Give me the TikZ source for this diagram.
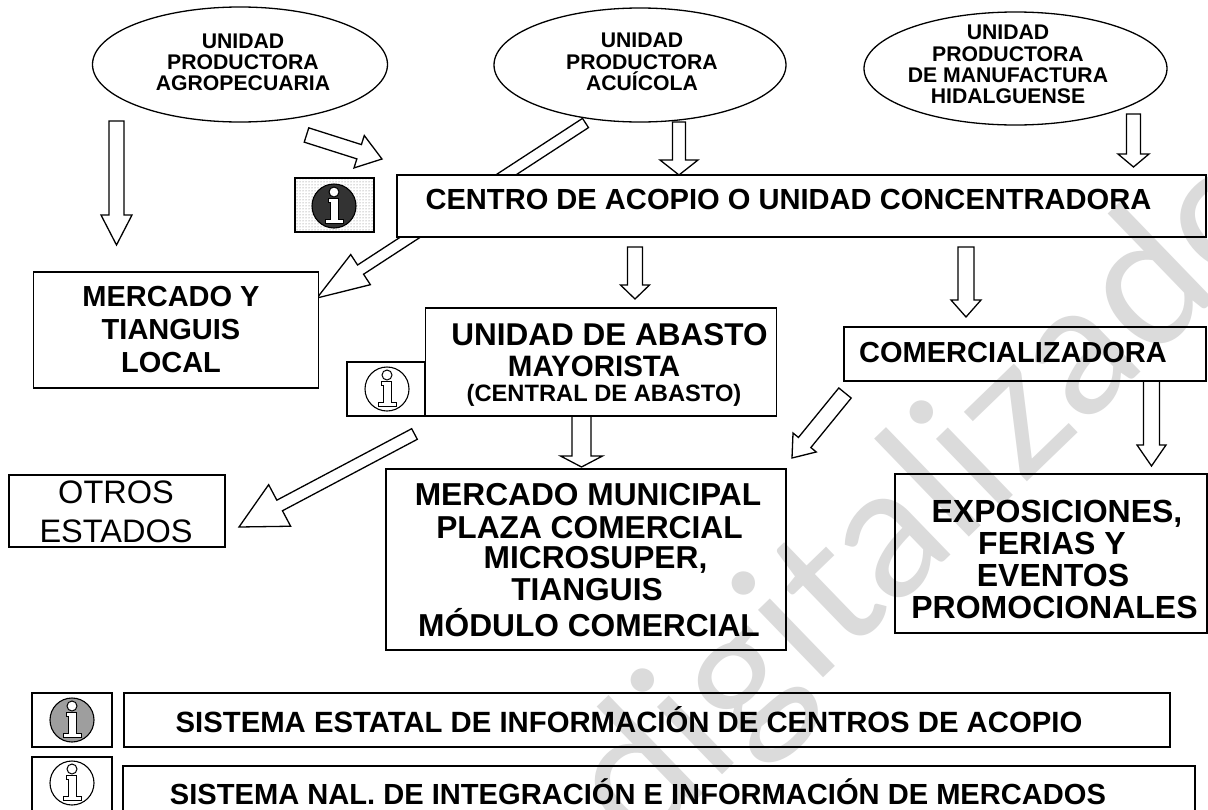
\documentclass[tikz,border=0pt]{standalone}
\usepackage{fontspec}
\setmainfont{Liberation Sans}
\newfontfamily\wmfont{Lato}
\usetikzlibrary{calc,patterns,shapes.geometric}
\newcommand{\fz}[1]{\fontsize{#1}{#1}\selectfont}
\newcommand{\blockarrow}[5]{%
  \coordinate (hb) at ($(#2)!#5pt!(#1)$);
  \draw[blockarrow] ($(#1)!#3pt!90:(#2)$) -- ($(hb)!#3pt!-90:(#1)$) -- ($(hb)!#4pt!-90:(#1)$) -- (#2)
    -- ($(hb)!#4pt!90:(#1)$) -- ($(hb)!#3pt!90:(#1)$) -- ($(#1)!#3pt!-90:(#2)$) -- cycle;}
\tikzset{
  blockarrow/.style={draw=black,fill=white,line width=1.3pt,line join=miter},
  boxn/.style={draw=black,fill=white,line width=1.5pt,rectangle,inner sep=0pt,text width=0pt},
  thinbox/.style={boxn,line width=1.1pt},
  prod/.style={draw=black,fill=white,line width=1.3pt,ellipse,inner sep=0pt},
  lab/.style={inner sep=0pt,align=center,font=\bfseries,text=black},
  iline/.style={line width=1pt},
  pics/infoicon/.style={code={
    \draw[line width=1.1pt,#1] (0,0) circle (22);
    \draw[iline,fill=white] (-6,-8) -- (4,-8) -- (4,13) -- (9,13) -- (9,17) -- (-9,17) -- (-9,13) -- (-4,13) -- (-4,-4) -- (-6,-4) -- cycle;
    \draw[iline,fill=white] (0,-14) circle (5);
  }}
}
\begin{document}
\begin{tikzpicture}[x=1pt,y=-1pt]
\useasboundingbox (0,0) rectangle (1208,809);
\clip (0,0) rectangle (1208,809);
\fill[white] (0,0) rectangle (1208,809);

% producers
\node[prod,minimum width=295pt,minimum height=115pt] (e1) at (240,64.5) {};
\node[prod,minimum width=292pt,minimum height=114pt] (e2) at (640,65) {};
\node[prod,minimum width=303pt,minimum height=113pt] (e3) at (1015.5,68.5) {};
\node[lab,font=\bfseries\fz{21.2}] (e1t) at (243,62.5) {UNIDAD\\PRODUCTORA\\AGROPECUARIA};
\node[lab,font=\bfseries\fz{21.2}] (e2t) at (642,62) {UNIDAD\\PRODUCTORA\\ACUÍCOLA};
\node[lab,font=\bfseries\fz{21.2}] (e3t) at (1008,64.5) {UNIDAD\\PRODUCTORA\\DE MANUFACTURA\\HIDALGUENSE};

% free ends of the block arrows
\coordinate (a1s) at (116.5,121);  \coordinate (a1e) at (116.5,245);
\coordinate (a2s) at (306.5,135);  \coordinate (a2e) at (382,159);
\coordinate (a3s) at (585.5,123);  \coordinate (a3e) at (317,298);
\coordinate (a4s) at (679,122);    \coordinate (a4e) at (679,175);
\coordinate (a5s) at (1133.5,114); \coordinate (a5e) at (1133.5,167);
\coordinate (a6s) at (635,247);    \coordinate (a6e) at (635,299);
\coordinate (a7s) at (966,247);    \coordinate (a7e) at (966,317);
\coordinate (a8s) at (414.5,434);  \coordinate (a8e) at (239,527);
\coordinate (a9s) at (581.5,416);  \coordinate (a9e) at (581.5,467);
\coordinate (a10s) at (845,393);   \coordinate (a10e) at (792,458);
\coordinate (a11s) at (1151.5,381);\coordinate (a11e) at (1151.5,466);

\blockarrow{a1s}{a1e}{7.5}{15.5}{30}
\blockarrow{a2s}{a2e}{7.5}{17}{24}
\blockarrow{a3s}{a3e}{5.5}{18}{52}
\blockarrow{a4s}{a4e}{6.5}{19}{15}
\blockarrow{a5s}{a5e}{7}{15.5}{13}
\blockarrow{a6s}{a6e}{7.5}{14.5}{14}
\blockarrow{a7s}{a7e}{8}{15}{17}
\blockarrow{a8s}{a8e}{6}{23.5}{46}
\blockarrow{a9s}{a9e}{9.5}{21}{11}
\blockarrow{a10s}{a10e}{8}{15}{20}
\blockarrow{a11s}{a11e}{8}{14.5}{21}

% main boxes
\node[boxn,minimum width=809pt,minimum height=62pt] (centro) at (801.5,206) {};
\node[lab,font=\bfseries\fz{29.1}] (centrot) at (788.5,199.5) {CENTRO DE ACOPIO O UNIDAD CONCENTRADORA};
\node[boxn,minimum width=285pt,minimum height=116pt] (merc) at (176,330) {};
\node[lab,font=\bfseries\fz{29}] (merct) at (171,329.5) {MERCADO Y\\[4pt]TIANGUIS\\[4pt]LOCAL};
\node[boxn,minimum width=351pt,minimum height=108pt] (abasto) at (601,362) {};
\node[lab,font=\bfseries\fz{31.5}] (abt1) at (609.5,335) {UNIDAD DE ABASTO};
\node[lab,font=\bfseries\fz{29.5}] (abt2) at (594,366) {MAYORISTA};
\node[lab,font=\bfseries\fz{23.7}] (abt3) at (604,395) {(CENTRAL DE ABASTO)};
\node[boxn,minimum width=362pt,minimum height=54pt] (comer) at (1025,354) {};
\node[lab,font=\bfseries\fz{29}] (comert) at (1013,353) {COMERCIALIZADORA};
\node[thinbox,minimum width=216pt,minimum height=72pt] (otros) at (117,511) {};
\node[lab,font=\fz{32.5}\mdseries] (otrost) at (116,512) {OTROS\\[6pt]ESTADOS};
\node[boxn,minimum width=400pt,minimum height=181pt] (mun) at (586,559.5) {};
\node[lab,font=\bfseries\fz{31.7}] (mun1) at (588,495) {MERCADO MUNICIPAL};
\node[lab,font=\bfseries\fz{31.7}] (mun2) at (589.5,528) {PLAZA COMERCIAL};
\node[lab,font=\bfseries\fz{31.7}] (mun3) at (595.5,560) {MICROSUPER,};
\node[lab,font=\bfseries\fz{31.7}] (mun4) at (587,590) {TIANGUIS};
\node[lab,font=\bfseries\fz{31.7}] (mun5) at (589,623) {MÓDULO COMERCIAL};
\node[boxn,minimum width=312pt,minimum height=159pt] (expo) at (1051,553.5) {};
\node[lab,font=\bfseries\fz{32}] (exp1) at (1057,514) {EXPOSICIONES,};
\node[lab,font=\bfseries\fz{32}] (exp2) at (1052,543) {FERIAS Y};
\node[lab,font=\bfseries\fz{32}] (exp3) at (1053,575) {EVENTOS};
\node[lab,font=\bfseries\fz{32}] (exp4) at (1054.5,607) {PROMOCIONALES};

% information boxes
\node[thinbox,minimum width=79pt,minimum height=54pt,pattern=dots,pattern color=black!55] (i1) at (334.5,205) {};
\pic at (334,206) {infoicon={fill=black!80}};
\node[thinbox,minimum width=78pt,minimum height=54pt] (i2) at (386,389) {};
\pic at (387,389) {infoicon={fill=white}};
\node[thinbox,minimum width=80pt,minimum height=54pt] (i3) at (72,720) {};
\pic at (72,720) {infoicon={fill=black!38}};
\node[thinbox,minimum width=80pt,minimum height=60pt] (i4) at (72,787) {};
\pic at (72,783) {infoicon={fill=white}};

\node[thinbox,minimum width=1046pt,minimum height=54pt] (s1) at (647,720) {};
\node[lab,font=\bfseries\fz{29.3}] (s1t) at (629,720) {SISTEMA ESTATAL DE INFORMACIÓN DE CENTROS DE ACOPIO};
\node[thinbox,minimum width=1072pt,minimum height=60pt] (s2) at (659,796) {};
\node[lab,font=\bfseries\fz{29.1}] (s2t) at (638,792) {SISTEMA NAL. DE INTEGRACIÓN E INFORMACIÓN DE MERCADOS};

% watermark
\begin{scope}[blend mode=multiply]
\node[inner sep=0pt,anchor=base west,rotate=44,text=black!14,font=\wmfont\fz{185}] (wm) at (638,857) {digitalizado};
\end{scope}
\end{tikzpicture}
\end{document}
